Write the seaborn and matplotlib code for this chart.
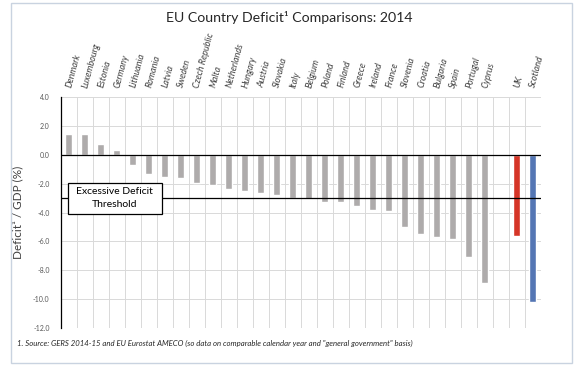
import pandas as pd
import matplotlib
matplotlib.use('Agg')
import matplotlib.pyplot as plt
import matplotlib.patches as patches
import seaborn as sns

# Data (deficit as % of GDP, 2014)
countries = ['Denmark', 'Luxembourg', 'Estonia', 'Germany', 'Lithuania', 'Romania', 'Latvia',
             'Sweden', 'Czech Republic', 'Malta', 'Netherlands', 'Hungary', 'Austria', 'Slovakia',
             'Italy', 'Belgium', 'Poland', 'Finland', 'Greece', 'Ireland', 'France', 'Slovenia',
             'Croatia', 'Bulgaria', 'Spain', 'Portugal', 'Cyprus', 'UK', 'Scotland']
deficits = [1.45, 1.43, 0.73, 0.32, -0.68, -1.36, -1.55, -1.64, -1.93, -2.07, -2.34, -2.5,
            -2.68, -2.77, -3.0, -3.07, -3.25, -3.3, -3.52, -3.82, -3.89, -4.98, -5.52, -5.7,
            -5.82, -7.08, -8.86, -5.61, -10.23]
bar_colors = ['#AEAAAA'] * 27 + ['#F21C0A', '#4472C4']
order = countries[:27] + [' '] + countries[27:]
y_ticks = [4.0, 2.0, 0.0, -2.0, -4.0, -6.0, -8.0, -10.0, -12.0]
threshold = -3.0

df = pd.DataFrame({'Country': countries, 'Deficit': deficits})
palette = dict(zip(countries, bar_colors))

sns.set_style('white')
plt.rcParams['font.family'] = ['Lato', 'DejaVu Sans']

fig = plt.figure(figsize=(5.79, 3.68), dpi=100)
ax = fig.add_axes([0.105, 0.109, 0.829, 0.627])

sns.barplot(data=df, x='Country', y='Deficit', order=order, hue='Country',
            palette=palette, width=0.45, legend=False, ax=ax, zorder=2)

ax.set_ylim(-12, 4)
ax.set_xlim(-0.5, len(order) - 0.5)
ax.set_yticks(y_ticks)
ax.set_yticklabels([f'{v:.1f}' for v in y_ticks], fontsize=5, color='#595959')

# grid: vertical lines between slots, horizontal every 2.0
for i in range(len(order) + 1):
    ax.axvline(i - 0.5, color='#D9D9D9', lw=0.7, zorder=0)
for v in y_ticks:
    ax.axhline(v, color='#D9D9D9', lw=0.7, zorder=0)
ax.axhline(0, color='black', lw=0.9, zorder=3)
ax.axhline(threshold, color='black', lw=0.9, zorder=3)

for s in ['top', 'right', 'bottom']:
    ax.spines[s].set_visible(False)
ax.spines['left'].set_color('black')
ax.spines['left'].set_linewidth(0.9)
ax.tick_params(axis='y', length=2, width=0.6, pad=6, color='#595959')

# country names on top, slanted
ax.xaxis.tick_top()
ax.set_xticks(range(len(order)))
ax.set_xticklabels(order, rotation=75, ha='left', va='center', rotation_mode='anchor',
                   fontsize=6.5, style='italic', color='#404040')
ax.tick_params(axis='x', length=0, pad=7)
ax.set_xlabel('')
ax.set_ylabel('Deficit¹ / GDP (%)', fontsize=8.5, color='#404040', labelpad=7)

# threshold label box
ax.add_patch(patches.Rectangle((-0.06, -4.1), 5.87, 2.18, facecolor='white',
                               edgecolor='black', lw=0.9, zorder=4))
ax.text(2.87, -3.0, 'Excessive Deficit\nThreshold', ha='center', va='center',
        fontsize=7.5, color='black', zorder=5, linespacing=1.5)

fig.text(0.5, 0.953, 'EU Country Deficit¹ Comparisons: 2014', ha='center', va='center',
         fontsize=10.2, color='#262626')
fig.text(0.029, 0.068, '1. Source: GERS 2014-15 and EU Eurostat AMECO (so data on comparable '
         'calendar year and "general government" basis)', ha='left', va='center',
         fontsize=5.6, style='italic', color='#262626')

fig.add_artist(patches.Rectangle((0.019, 0.014), 0.969, 0.978, transform=fig.transFigure,
                                 fill=False, edgecolor='#C9D3E0', lw=1.0))

fig.savefig('out.png', dpi=100)
